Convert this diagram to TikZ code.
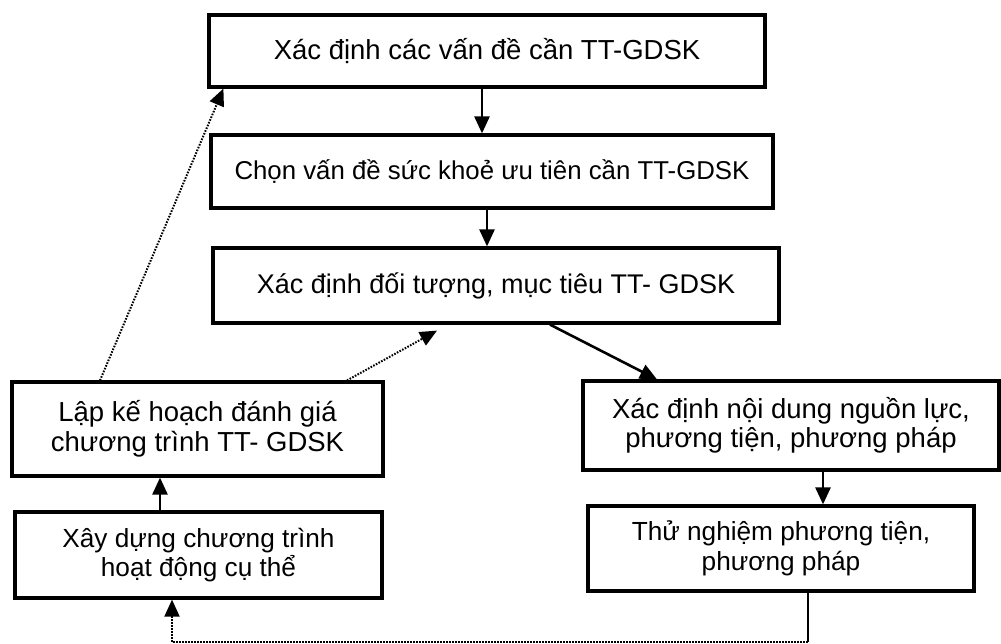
\documentclass[tikz,border=0pt]{standalone}
\usepackage{fontspec}
\setmainfont{Liberation Sans}
\usetikzlibrary{arrows.meta}
\begin{document}
\begin{tikzpicture}[x=1pt,y=-1pt,
  box/.style={draw,line width=3.2pt,align=center,inner sep=0pt,
    font=\fontsize{27.5}{29.5}\selectfont},
  smallbox/.style={box,font=\fontsize{26.2}{29.5}\selectfont},
  arr/.style={line width=2.6pt,-{Triangle[length=17pt,width=15pt]}},
  darr/.style={line width=2pt,dash pattern=on 1.6pt off 1.4pt,-{Triangle[length=17pt,width=15pt]}},
  dline/.style={line width=2pt,dash pattern=on 1.6pt off 1.4pt},
  sline/.style={line width=2.6pt}]
\useasboundingbox (0,0) rectangle (1001,643);
\node[box,minimum width=556pt,minimum height=72pt] (b1) at (487,51) {Xác định các vấn đề cần TT-GDSK};
\node[smallbox,font=\fontsize{25.8}{29.5}\selectfont,minimum width=562pt,minimum height=73pt] (b2) at (492,171.5) {Chọn vấn đề sức khoẻ ưu tiên cần TT-GDSK};
\node[box,font=\fontsize{27}{29.5}\selectfont,minimum width=566pt,minimum height=75pt] (b3) at (496,285.5) {Xác định đối tượng, mục tiêu TT- GDSK};
\node[box,minimum width=371pt,minimum height=94pt] (lk) at (197.5,429) {Lập kế hoạch đánh giá\\chương trình TT- GDSK};
\node[smallbox,minimum width=367pt,minimum height=86pt] (xd) at (198.5,555) {Xây dựng chương trình\\hoạt động cụ thể};
\node[box,minimum width=416pt,minimum height=89pt] (nd) at (791,425.5) {Xác định nội dung nguồn lực,\\phương tiện, phương pháp};
\node[smallbox,minimum width=386pt,minimum height=85pt] (tn) at (781,548.5) {Thử nghiệm phương tiện,\\phương pháp};
% solid arrows
\draw[arr] ([xshift=-5pt]b1.south) -- ([xshift=-5pt]b1.south |- b2.north);
\draw[arr] ([xshift=-5pt]b2.south) -- ([xshift=-5pt]b2.south |- b3.north);
\draw[arr] ([xshift=54pt]b3.south) -- ([xshift=-134pt]nd.north);
\draw[arr] ([xshift=32pt]nd.south) -- ([xshift=32pt]nd.south |- tn.north);
\draw[arr] ([xshift=-38.5pt]xd.north) -- ([xshift=-38.5pt]xd.north |- lk.south);
% feedback loop
\coordinate (c1) at ([yshift=-49pt]tn.south);
\coordinate (c2) at ([xshift=-26.5pt]xd.south |- c1);
\draw[sline] ([xshift=27pt]tn.south) -- ([xshift=27pt]tn.south |- c1);
\draw[dline] ([xshift=27pt]tn.south |- c1) -- (c2);
\draw[darr] (c2) -- ([xshift=-26.5pt]xd.south);
% dotted arrows from evaluation plan
\draw[darr] ([xshift=-97.5pt]lk.north) -- ([xshift=16pt]b1.south west);
\draw[darr] ([xshift=149.5pt]lk.north) -- ([xshift=-59pt,yshift=-6pt]b3.south);
\end{tikzpicture}
\end{document}
